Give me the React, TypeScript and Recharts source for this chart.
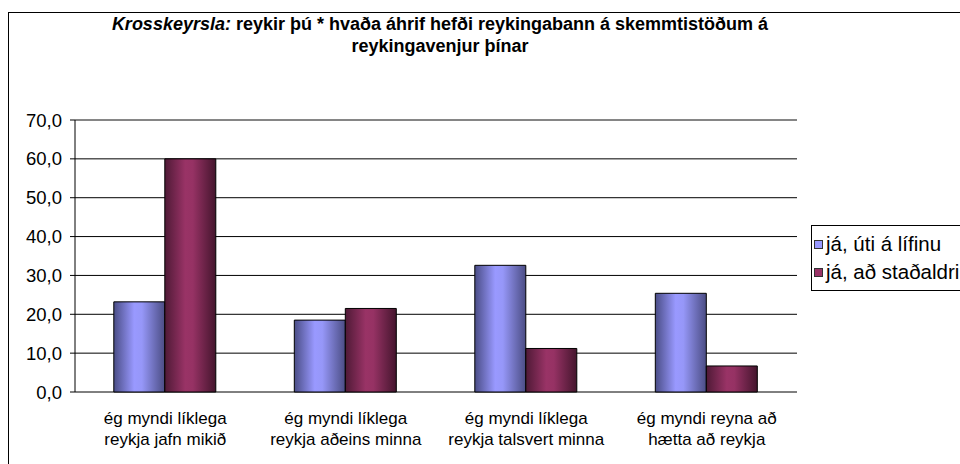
import React from 'react';
import { BarChart, Bar, XAxis, YAxis, CartesianGrid, Legend, ReferenceLine } from 'recharts';

const categories = [
  'ég myndi líklega\nreykja jafn mikið',
  'ég myndi líklega\nreykja aðeins minna',
  'ég myndi líklega\nreykja talsvert minna',
  'ég myndi reyna að\nhætta að reykja',
];
const utiALifinu = [23.2, 18.5, 32.6, 25.4];
const adStadaldri = [60.0, 21.5, 11.2, 6.7];
const yTicks = [0, 10, 20, 30, 40, 50, 60, 70];
const edgeTicks = [0, 1, 2, 3, 4];

const seriesNames = { uti: 'já, úti á lífinu', stad: 'já, að staðaldri' };

const data = categories.map((c, i) => ({ name: c, uti: utiALifinu[i], stad: adStadaldri[i] }));

const FONT = '"Liberation Sans", Arial, sans-serif';

const CategoryTick = (props: any) => {
  const { x, y, payload } = props;
  const lines = String(payload.value).split('\n');
  return (
    <text x={x} y={y} textAnchor="middle" fontFamily={FONT} fontSize={17} fill="#000">
      {lines.map((l, i) => (
        <tspan key={i} x={x} dy={i === 0 ? 24 : 21}>{l}</tspan>
      ))}
    </text>
  );
};

const LegendBox = () => (
  <div
    style={{
      border: '1px solid #000',
      background: '#fff',
      width: 200,
      height: 60,
      boxSizing: 'content-box',
      fontFamily: FONT,
      fontSize: 20.5,
      color: '#000',
      paddingTop: 4,
      paddingLeft: 2,
    }}
  >
    {[
      { key: 'uti', color: '#9999ff' },
      { key: 'stad', color: '#993366' },
    ].map((it) => (
      <div key={it.key} style={{ display: 'flex', alignItems: 'center', height: 28, whiteSpace: 'nowrap' }}>
        <span
          style={{
            display: 'inline-block',
            width: 7,
            height: 7,
            background: it.color,
            border: '1px solid #333',
            marginRight: 3,
          }}
        />
        <span>{seriesNames[it.key as 'uti' | 'stad']}</span>
      </div>
    ))}
  </div>
);

export default function App() {
  return (
    <div style={{ position: 'absolute', left: 0, top: 0, width: 960, height: 464, overflow: 'hidden', background: '#fff' }}>
      {/* chart frame */}
      <div style={{ position: 'absolute', left: 8, top: 12, width: 1000, height: 500, border: '1px solid #000' }} />
      {/* title */}
      <div
        style={{
          position: 'absolute',
          left: 40,
          width: 800,
          top: 13,
          textAlign: 'center',
          fontFamily: FONT,
          fontWeight: 'bold',
          fontSize: 18,
          lineHeight: '22px',
          color: '#000',
        }}
      >
        <i>Krosskeyrsla:</i> reykir þú * hvaða áhrif hefði reykingabann á skemmtistöðum á
        <br />
        reykingavenjur þínar
      </div>
      <div style={{ position: 'absolute', left: 0, top: 0 }}>
        <BarChart
          width={960}
          height={464}
          data={data}
          margin={{ top: 120, right: 163, bottom: 22, left: 15 }}
          barGap={0}
          barCategoryGap="21.5%"
        >
          <defs>
            <linearGradient id="gBlue" x1="0" y1="0" x2="1" y2="0">
              <stop offset="0%" stopColor="#4a4d86" />
              <stop offset="40%" stopColor="#9999ff" />
              <stop offset="55%" stopColor="#9697f8" />
              <stop offset="100%" stopColor="#4b4d84" />
            </linearGradient>
            <linearGradient id="gRed" x1="0" y1="0" x2="1" y2="0">
              <stop offset="0%" stopColor="#4f1a36" />
              <stop offset="40%" stopColor="#993366" />
              <stop offset="55%" stopColor="#963264" />
              <stop offset="100%" stopColor="#44152d" />
            </linearGradient>
          </defs>
          <CartesianGrid vertical={false} stroke="#000" />
          <XAxis
            xAxisId="edges"
            type="number"
            domain={[0, 4]}
            ticks={edgeTicks}
            tick={false}
            tickSize={6}
            height={0}
            stroke="#000"
            axisLine={{ stroke: '#000' }}
            tickLine={{ stroke: '#000' }}
          />
          <XAxis
            dataKey="name"
            interval={0}
            height={50}
            axisLine={false}
            tickLine={false}
            tick={<CategoryTick />}
          />
          <YAxis
            domain={[0, 70]}
            ticks={yTicks}
            width={60}
            tickSize={5}
            tickMargin={8}
            stroke="#000"
            tick={{ fill: '#000', fontFamily: FONT, fontSize: 18.5 }}
            tickFormatter={(v: number) => v.toFixed(1).replace('.', ',')}
          />
          <YAxis
            yAxisId="r"
            orientation="right"
            domain={[0, 70]}
            width={0}
            tick={false}
            tickLine={false}
            axisLine={{ stroke: '#8c8c8c' }}
          />
          <ReferenceLine y={70} stroke="#8c8c8c" />
          <Legend
            layout="horizontal"
            verticalAlign="middle"
            align="center"
            wrapperStyle={{ left: 811, top: 225, width: 'auto' }}
            content={() => <LegendBox />}
          />
          <Bar dataKey="uti" name={seriesNames.uti} fill="url(#gBlue)" stroke="#000" strokeWidth={1} isAnimationActive={false} />
          <Bar dataKey="stad" name={seriesNames.stad} fill="url(#gRed)" stroke="#000" strokeWidth={1} isAnimationActive={false} />
        </BarChart>
      </div>
    </div>
  );
}
